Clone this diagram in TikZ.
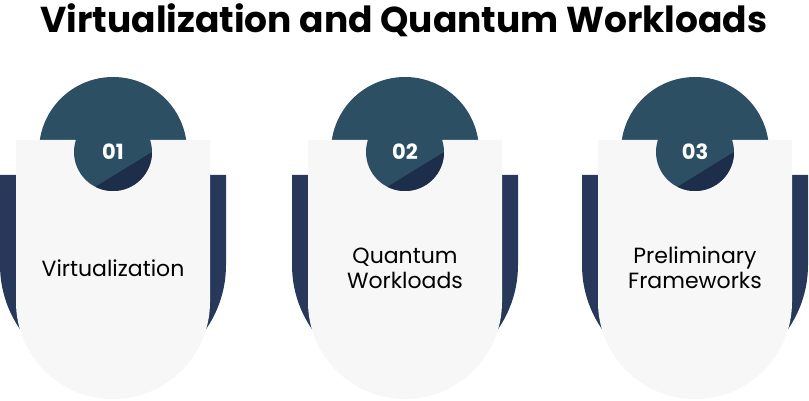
\documentclass[tikz,border=0pt]{standalone}
\usepackage{fontspec}
\setmainfont{Poppins}
\usetikzlibrary{math}
\definecolor{teal}{HTML}{2C4F63}
\definecolor{navy}{HTML}{27385A}
\definecolor{deep}{HTML}{1D2E4A}
\definecolor{card}{HTML}{F7F7F8}
\tikzset{numtext/.style={text=white,font=\fontsize{21}{22}\selectfont\bfseries},
  cardtext/.style={align=center,font=\fontsize{22}{25}\selectfont}}
\begin{document}
\begin{tikzpicture}[x=1pt,y=-1pt]
  \tikzmath{\capR = 74; \numr = 39; \backR = 113; \cardR = 97;}
  \useasboundingbox (0,0) rectangle (809,401);
  \node[font=\fontsize{36}{38}\selectfont\bfseries] (title) at (404,20) {Virtualization and Quantum Workloads};
  \foreach \cx/\idx/\lbl in {113/01/Virtualization, 405/02/{Quantum\\Workloads}, 695/03/{Preliminary\\Frameworks}}{
    % top cap and back shape
    \fill[teal] (\cx-\capR,151) arc (180:360:\capR) -- cycle;
    \fill[navy] (\cx-\backR,175) -- (\cx+\backR,175) -- (\cx+\backR,265) arc (0:180:\backR) -- cycle;
    \fill[card] (\cx-\cardR,140) -- (\cx+\cardR,140) -- (\cx+\cardR,302) arc (0:180:\cardR) -- cycle;
    % number disc
    \fill[teal] (\cx,152) circle (\numr);
    \begin{scope}
      \clip (\cx,152) circle (\numr);
      \fill[deep] (\cx-\numr,200) -- (\cx+\numr,152) -- (\cx+\numr,200) -- cycle;
    \end{scope}
    \node[numtext] (num\idx) at (\cx,152) {\idx};
    \node[cardtext] (lbl\idx) at (\cx,268) {\lbl};
  }
\end{tikzpicture}
\end{document}
